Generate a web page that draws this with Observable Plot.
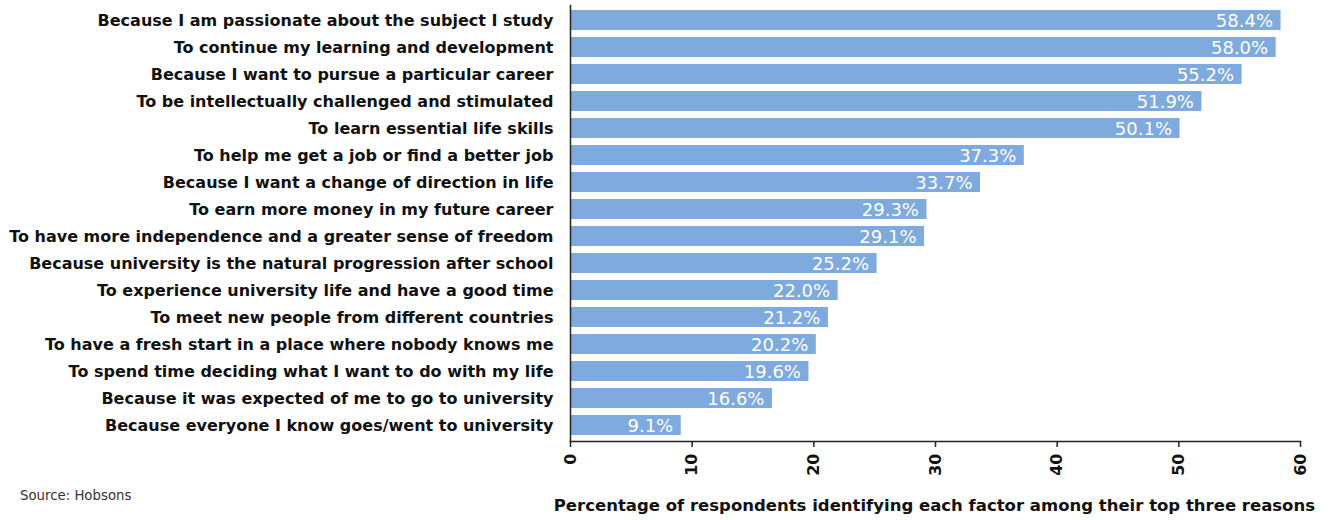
<!DOCTYPE html>
<html>
<head>
<meta charset="utf-8">
<script src="https://cdn.jsdelivr.net/npm/d3@7"></script>
<script src="https://cdn.jsdelivr.net/npm/@observablehq/plot@0.6"></script>
<style>
  html, body { margin: 0; padding: 0; background: #fff; }
  #wrap { position: relative; width: 1328px; height: 520px; font-family: "DejaVu Sans", sans-serif; }
  #source { position: absolute; left: 20px; top: 488px; font-size: 13.3px; color: #333; }
  #xlabel { position: absolute; right: 13px; top: 496px; font-size: 16.5px; font-weight: bold; color: #111; white-space: nowrap; }
</style>
</head>
<body>
<div id="wrap">
  <div id="chart"></div>
  <div id="source">Source: Hobsons</div>
  <div id="xlabel">Percentage of respondents identifying each factor among their top three reasons</div>
</div>
<script>
const reasons = [
  "Because I am passionate about the subject I study",
  "To continue my learning and development",
  "Because I want to pursue a particular career",
  "To be intellectually challenged and stimulated",
  "To learn essential life skills",
  "To help me get a job or find a better job",
  "Because I want a change of direction in life",
  "To earn more money in my future career",
  "To have more independence and a greater sense of freedom",
  "Because university is the natural progression after school",
  "To experience university life and have a good time",
  "To meet new people from different countries",
  "To have a fresh start in a place where nobody knows me",
  "To spend time deciding what I want to do with my life",
  "Because it was expected of me to go to university",
  "Because everyone I know goes/went to university"
];
const percents = [58.4, 58.0, 55.2, 51.9, 50.1, 37.3, 33.7, 29.3, 29.1, 25.2, 22.0, 21.2, 20.2, 19.6, 16.6, 9.1];
const xTicks = [0, 10, 20, 30, 40, 50, 60];

const data = reasons.map((r, i) => ({reason: r, value: percents[i]}));

const chart = Plot.plot({
  width: 1328,
  height: 520,
  marginLeft: 570,
  marginRight: 28,
  marginTop: 5,
  marginBottom: 79,
  style: {fontFamily: "'DejaVu Sans', sans-serif", color: "#111", background: "#fff"},
  x: {domain: [0, 60]},
  y: {domain: reasons, range: [1, 444], padding: 0.27},
  marks: [
    Plot.barX(data, {x: "value", y: "reason", fill: "#7eaade"}),
    Plot.text(data, {x: "value", y: "reason", text: d => d.value.toFixed(1) + "%", textAnchor: "end", dx: -8, dy: 0.5, fill: "#fff", fontSize: 18}),
    Plot.frame({anchor: "left", stroke: "#222", strokeWidth: 1.5}),
    Plot.frame({anchor: "bottom", stroke: "#222", strokeWidth: 1.5}),
    Plot.axisX({ticks: xTicks, tickRotate: -90, tickSize: 6, tickPadding: 6, label: null, fontSize: 16, fontWeight: "bold", stroke: "#222", strokeWidth: 1.5}),
    Plot.axisY({tickSize: 0, tickPadding: 17, label: null, fontSize: 16, fontWeight: "bold"})
  ]
});
document.getElementById("chart").appendChild(chart);
</script>
</body>
</html>
